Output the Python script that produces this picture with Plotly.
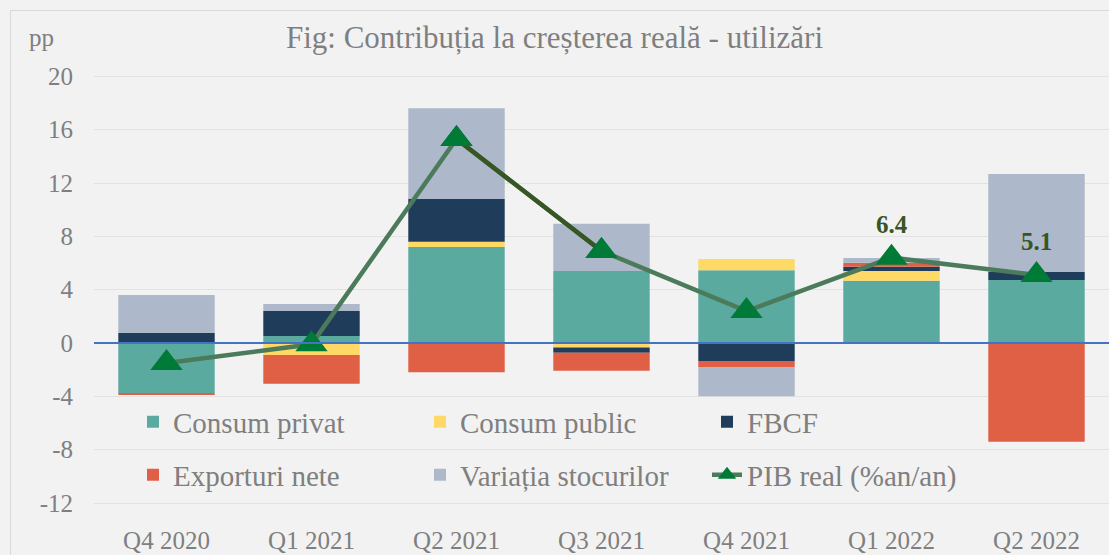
import plotly.graph_objects as go

quarters = ["Q4 2020", "Q1 2021", "Q2 2021", "Q3 2021", "Q4 2021", "Q1 2022", "Q2 2022"]
consum_privat = [-3.75, 0.52, 7.2, 5.4, 5.45, 4.67, 4.72]
consum_public = [0.0, -0.9, 0.4, -0.33, 0.85, 0.73, 0.0]
fbcf = [0.77, 1.88, 3.2, -0.4, -1.35, 0.32, 0.63]
exporturi_nete = [-0.12, -2.15, -2.2, -1.35, -0.45, 0.3, -7.4]
variatia_stocurilor = [2.83, 0.52, 6.8, 3.55, -2.2, 0.35, 7.32]
pib_real = [-1.5, -0.1, 15.3, 6.9, 2.4, 6.4, 5.1]
labelled_points = [5, 6]
y_ticks = [-12, -8, -4, 0, 4, 8, 12, 16, 20]

FONT = "Liberation Serif, Times New Roman, serif"
GREY = "#7f7f7f"
BG = "#F2F2F2"

fig = go.Figure()

bar_series = [
    ("Consum privat", consum_privat, "#5BAAA0", "legend"),
    ("Consum public", consum_public, "#FFD966", "legend"),
    ("FBCF", fbcf, "#1F3D5A", "legend"),
    ("Exporturi nete", exporturi_nete, "#E06046", "legend2"),
    ("Variația stocurilor", variatia_stocurilor, "#ADB9CA", "legend2"),
]
for name, vals, col, leg in bar_series:
    fig.add_trace(go.Bar(x=quarters, y=vals, name=name, marker=dict(color=col, line=dict(width=0)),
                         legend=leg))

labels = [f"{v:.1f}" if i in labelled_points else "" for i, v in enumerate(pib_real)]
fig.add_trace(go.Scatter(
    x=quarters, y=pib_real, name="PIB real (%an/an)", mode="lines+markers+text",
    line=dict(color="#4B7B5B", width=4.5),
    marker=dict(symbol="triangle-up", size=28, color="#007A37"),
    text=labels, textposition="top center",
    textfont=dict(family=FONT, size=25, color="#375623", weight="bold"),
    legend="legend2",
))
fig.add_trace(go.Scatter(
    x=quarters[2:4], y=pib_real[2:4], mode="lines", showlegend=False,
    line=dict(color="#375623", width=4.5), hoverinfo="skip",
))
fig.add_trace(go.Scatter(
    x=quarters[2:4], y=pib_real[2:4], mode="markers", showlegend=False,
    marker=dict(symbol="triangle-up", size=28, color="#007A37"), hoverinfo="skip",
))

W, H = 1109, 555
ml, mr, mt, mb = 94, 0, 63, 32
pw, ph = W - ml - mr, H - mt - mb

def px_x(p):
    return (p - ml) / pw

def px_y(p):
    return (H - mb - p) / ph

fig.update_layout(
    width=W, height=H,
    margin=dict(l=ml, r=mr, t=mt, b=mb),
    paper_bgcolor=BG, plot_bgcolor=BG,
    barmode="relative", bargap=0.335,
    font=dict(family=FONT, color=GREY, size=25),
    title=dict(text="Fig: Contribuția la creșterea reală - utilizări", x=0.5, xref="container",
               y=1 - 37 / H, yref="container", xanchor="center", yanchor="middle",
               font=dict(family=FONT, size=31, color=GREY)),
    xaxis=dict(showgrid=False, zeroline=False, showline=False, ticks="",
               tickfont=dict(family=FONT, size=25, color=GREY)),
    yaxis=dict(range=[-13.5, 21], tickvals=y_ticks, ticktext=[str(t) for t in y_ticks],
               showgrid=True, gridcolor="#E2E2E2", gridwidth=1, zeroline=False, showline=False,
               ticks="", ticklabelstandoff=20,
               tickfont=dict(family=FONT, size=25, color=GREY)),
    legend=dict(orientation="h", x=px_x(133), y=px_y(422), xanchor="left", yanchor="middle",
                bgcolor="rgba(0,0,0,0)", entrywidth=242, font=dict(family=FONT, size=29, color=GREY),
                traceorder="normal"),
    legend2=dict(orientation="h", x=px_x(133), y=px_y(475), xanchor="left", yanchor="middle",
                 bgcolor="rgba(0,0,0,0)", entrywidth=242, font=dict(family=FONT, size=29, color=GREY),
                 traceorder="normal"),
    showlegend=True,
)

fig.add_shape(type="line", xref="paper", yref="y", x0=0, x1=1, y0=0, y1=0,
              line=dict(color="#4472C4", width=2), layer="above")
fig.add_shape(type="rect", xref="paper", yref="paper", x0=px_x(10.5), x1=px_x(1120),
              y0=px_y(570), y1=px_y(10.5), line=dict(color="#D9D9D9", width=1), layer="below")
fig.add_annotation(text="pp", xref="paper", yref="paper", x=px_x(41), y=px_y(37),
                   xanchor="center", yanchor="middle", showarrow=False,
                   font=dict(family=FONT, size=25, color=GREY))

fig.write_html("out.html", config={"displayModeBar": False},
               post_script="document.body.style.margin='0';")
